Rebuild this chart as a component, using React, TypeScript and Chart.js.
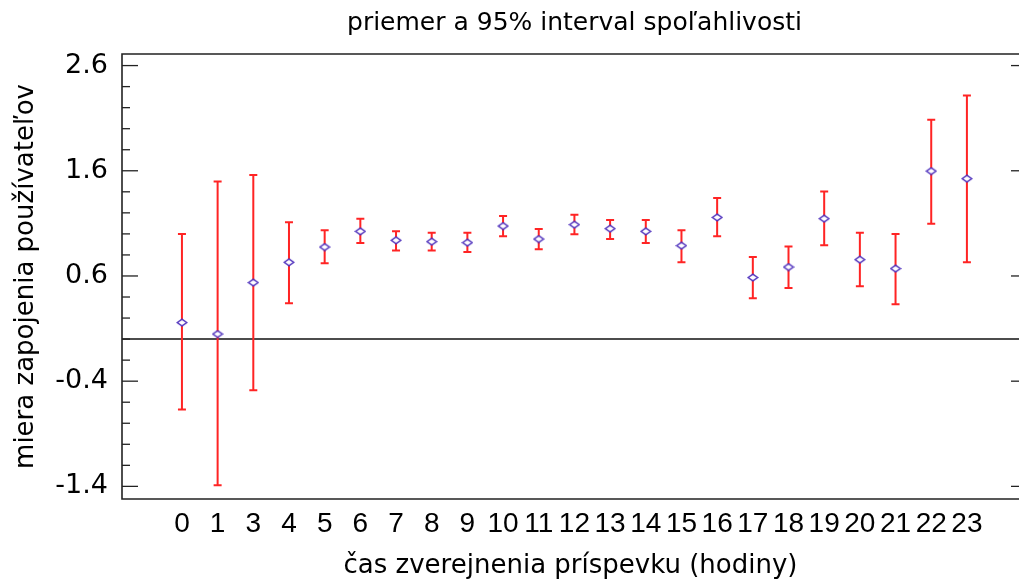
import React, { useEffect, useRef } from "react";
import { Chart, registerables } from "chart.js";

Chart.register(...registerables);

const hours = ["0", "1", "3", "4", "5", "6", "7", "8", "9", "10", "11", "12", "13", "14", "15", "16", "17", "18", "19", "20", "21", "22", "23"];
const means = [0.157, 0.048, 0.537, 0.73, 0.875, 1.024, 0.939, 0.926, 0.917, 1.075, 0.951, 1.088, 1.05, 1.024, 0.888, 1.157, 0.585, 0.685, 1.145, 0.755, 0.67, 1.597, 1.525];
const upper = [0.999, 1.499, 1.559, 1.11, 1.034, 1.145, 1.024, 1.012, 1.012, 1.17, 1.046, 1.183, 1.132, 1.132, 1.034, 1.341, 0.78, 0.879, 1.404, 1.012, 0.999, 2.086, 2.316];
const lower = [-0.67, -1.389, -0.486, 0.34, 0.72, 0.913, 0.841, 0.841, 0.828, 0.977, 0.853, 0.996, 0.951, 0.913, 0.73, 0.977, 0.388, 0.486, 0.891, 0.502, 0.331, 1.097, 0.73];
const yMajorTicks = [-1.4, -0.4, 0.6, 1.6, 2.6];
const yMinorStep = 0.2;
const referenceLine = 0;

const titleText = "priemer a 95% interval spoľahlivosti";
const xTitle = "čas zverejnenia príspevku (hodiny)";
const yTitle = "miera zapojenia používateľov";

function makeDiamond(): HTMLCanvasElement {
  const c = document.createElement("canvas");
  c.width = 12;
  c.height = 9;
  const g = c.getContext("2d")!;
  g.beginPath();
  g.moveTo(1.2, 4.5);
  g.lineTo(6, 1.2);
  g.lineTo(10.8, 4.5);
  g.lineTo(6, 7.8);
  g.closePath();
  g.fillStyle = "#ffffff";
  g.fill();
  g.strokeStyle = "#4f32bd";
  g.lineWidth = 1.5;
  g.stroke();
  return c;
}

const decorPlugin = {
  id: "decor",
  beforeDatasetsDraw(chart: any) {
    const { ctx, chartArea } = chart;
    const { left, right, top, bottom } = chartArea;
    const x = chart.scales.x;
    const y = chart.scales.y;
    ctx.save();
    // reference line
    const y0 = y.getPixelForValue(referenceLine);
    ctx.strokeStyle = "#111";
    ctx.lineWidth = 1.5;
    ctx.beginPath();
    ctx.moveTo(left, y0);
    ctx.lineTo(right, y0);
    ctx.stroke();

    // error bars
    ctx.strokeStyle = "#ff2424";
    ctx.lineWidth = 2;
    for (let i = 0; i < hours.length; i++) {
      const px = x.getPixelForValue(i);
      const pt = y.getPixelForValue(upper[i]);
      const pb = y.getPixelForValue(lower[i]);
      ctx.beginPath();
      ctx.moveTo(px, pt);
      ctx.lineTo(px, pb);
      ctx.moveTo(px - 4, pt);
      ctx.lineTo(px + 4, pt);
      ctx.moveTo(px - 4, pb);
      ctx.lineTo(px + 4, pb);
      ctx.stroke();
    }

    // ticks
    ctx.strokeStyle = "#222";
    ctx.lineWidth = 1.3;
    const first = yMajorTicks[0];
    const last = yMajorTicks[yMajorTicks.length - 1];
    const n = Math.round((last - first) / yMinorStep);
    for (let k = 0; k <= n; k++) {
      const v = first + k * yMinorStep;
      const isMajor = yMajorTicks.some((m) => Math.abs(m - v) < 1e-6);
      const py = y.getPixelForValue(v);
      ctx.beginPath();
      ctx.moveTo(left, py);
      ctx.lineTo(left + (isMajor ? 16 : 8), py);
      ctx.stroke();
      if (isMajor) {
        ctx.beginPath();
        ctx.moveTo(right - 8, py);
        ctx.lineTo(right, py);
        ctx.stroke();
      }
    }

    // frame (left, top, bottom)
    ctx.strokeStyle = "#222";
    ctx.lineWidth = 1.6;
    ctx.beginPath();
    ctx.moveTo(right + 2, top);
    ctx.lineTo(left, top);
    ctx.lineTo(left, bottom);
    ctx.lineTo(right + 2, bottom);
    ctx.stroke();
    ctx.restore();
  },
  afterDraw(chart: any) {
    const { ctx, chartArea } = chart;
    ctx.save();
    ctx.fillStyle = "#000";
    ctx.font = "25px 'DejaVu Sans'";
    ctx.textAlign = "center";
    ctx.textBaseline = "alphabetic";
    ctx.fillText(titleText, (chartArea.left + chartArea.right) / 2 + 4, 30);
    ctx.restore();
  },
};

export default function App() {
  const ref = useRef<HTMLCanvasElement | null>(null);
  useEffect(() => {
    if (!ref.current) return;
    const diamond = makeDiamond();
    const chart = new Chart(ref.current, {
      type: "scatter",
      data: {
        datasets: [
          {
            data: hours.map((_, i) => ({ x: i, y: means[i] })),
            pointStyle: diamond as any,
            pointRadius: 5,
            showLine: false,
          },
        ],
      },
      options: {
        animation: false,
        responsive: false,
        devicePixelRatio: 1,
        layout: { autoPadding: false, padding: { left: 0, right: 0, top: 54, bottom: 0 } } as any,
        plugins: {
          legend: { display: false },
          tooltip: { enabled: false },
          title: { display: false },
        },
        scales: {
          x: {
            type: "linear",
            min: -1.68,
            max: 23.46,
            grid: { display: false, drawTicks: false },
            border: { display: false },
            afterBuildTicks: (s: any) => {
              s.ticks = hours.map((_, i) => ({ value: i }));
            },
            ticks: {
              autoSkip: false,
              maxRotation: 0,
              padding: 8,
              color: "#000",
              font: { family: "Liberation Sans", size: 28 },
              callback: (v: any) => hours[Math.round(Number(v))],
            },
            title: {
              display: true,
              text: xTitle,
              color: "#000",
              font: { family: "DejaVu Sans", size: 26 },
              padding: { top: 0, bottom: 1 },
            },
            afterFit: (s: any) => {
              s.height = 84;
            },
          },
          y: {
            type: "linear",
            min: -1.52,
            max: 2.71,
            grid: { display: false, drawTicks: false },
            border: { display: false },
            afterBuildTicks: (s: any) => {
              s.ticks = yMajorTicks.map((v) => ({ value: v }));
            },
            ticks: {
              padding: 14,
              color: "#000",
              font: { family: "DejaVu Sans", size: 27 },
              callback: (v: any) => Number(v).toFixed(1),
            },
            title: {
              display: true,
              text: yTitle,
              color: "#000",
              font: { family: "DejaVu Sans", size: 26 },
              padding: { top: 11, bottom: 0 },
            },
            afterFit: (s: any) => {
              s.width = 122;
            },
          },
        },
      },
      plugins: [decorPlugin],
    });
    return () => chart.destroy();
  }, []);
  return (
    <div style={{ position: "fixed", left: 0, top: 0, width: 1019, height: 583, background: "#fff" }}>
      <canvas ref={ref} width={1019} height={583} style={{ display: "block" }} />
    </div>
  );
}
